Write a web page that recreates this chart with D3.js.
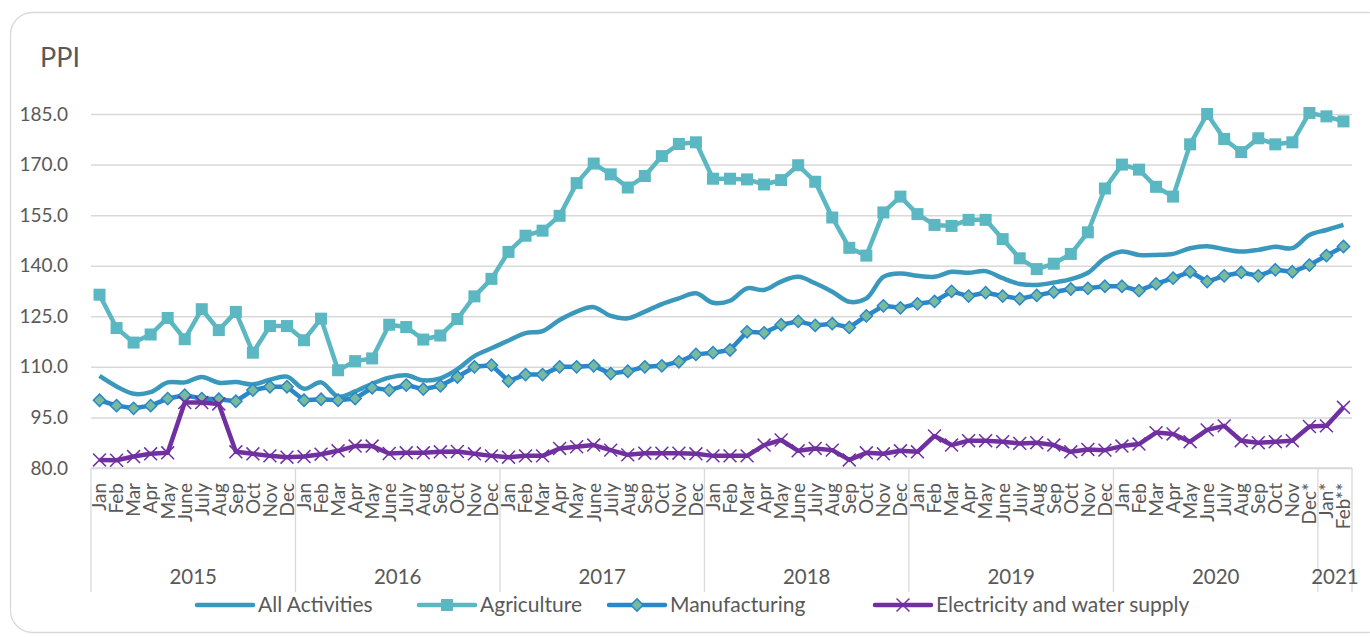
<!DOCTYPE html>
<html>
<head>
<meta charset="utf-8">
<script src="https://cdn.jsdelivr.net/npm/d3@7"></script>
<style>
  html, body { margin: 0; padding: 0; background: #ffffff; }
  svg { display: block; }
  text { font-family: Lato, "Open Sans", sans-serif; fill: #595959; }
</style>
</head>
<body>
<svg id="chart" width="1370" height="637"></svg>
<script>
// ---------------- data ----------------
const years = ["2015", "2016", "2017", "2018", "2019", "2020", "2021"];
const monthNames = ["Jan","Feb","Mar","Apr","May","June","July","Aug","Sep","Oct","Nov","Dec"];
const lastMonths2020 = ["Jan","Feb","Mar","Apr","May","June","July","Aug","Sep","Oct","Nov","Dec*"];
const months2021 = ["Jan*", "Feb**"];
const yTicks = [80, 95, 110, 125, 140, 155, 170, 185];
const seriesNames = ["All Activities", "Agriculture", "Manufacturing", "Electricity and water supply"];

const allActivities = [
  107.3, 104.2, 102.0, 102.5, 105.4, 105.4, 107.0, 105.3, 105.5, 104.8, 106.2, 107.1,
  103.5, 105.4, 101.2, 102.7, 105.0, 106.8, 107.5, 106.0, 106.6, 109.3, 113.2, 115.5,
  117.8, 120.0, 120.6, 123.9, 126.4, 127.7, 125.1, 124.4, 126.4, 128.6, 130.3, 131.8,
  129.0, 129.6, 133.3, 132.8, 135.3, 136.7, 134.8, 132.3, 129.3, 130.3, 136.7, 137.7,
  137.0, 136.7, 138.2, 137.9, 138.4, 136.3, 134.6, 134.3, 135.0, 136.0, 137.9, 142.2,
  144.2, 143.2, 143.2, 143.5, 145.2, 145.8, 144.9, 144.2, 144.7, 145.6, 145.2, 149.1,
  150.6, 152.1
];
const agriculture = [
  131.4, 121.5, 117.2, 119.6, 124.5, 118.2, 127.1, 120.9, 126.3, 114.2, 122.1, 122.1,
  117.9, 124.3, 109.0, 111.7, 112.5, 122.5, 121.8, 118.1, 119.3, 124.2, 130.9, 136.1,
  144.1, 148.9, 150.4, 154.8, 164.5, 170.3, 167.1, 163.2, 166.6, 172.5, 176.1, 176.6,
  165.8, 165.8, 165.6, 164.1, 165.4, 169.8, 164.9, 154.3, 145.3, 143.0, 155.8, 160.5,
  155.3, 152.1, 151.8, 153.6, 153.6, 147.9, 142.2, 139.0, 140.6, 143.5, 149.9, 162.9,
  170.0, 168.5, 163.4, 160.5, 176.0, 185.0, 177.6, 173.7, 177.8, 176.0, 176.6, 185.3,
  184.3, 182.8
];
const manufacturing = [
  100.1, 98.5, 97.7, 98.5, 100.6, 101.6, 100.6, 100.4, 99.8, 103.1, 104.1, 104.1,
  100.1, 100.4, 100.1, 100.6, 103.8, 103.1, 104.6, 103.4, 104.4, 107.0, 110.0, 110.5,
  105.8, 107.7, 107.7, 110.0, 110.0, 110.3, 108.0, 108.7, 110.0, 110.3, 111.5, 113.7,
  114.2, 115.0, 120.4, 120.1, 122.5, 123.5, 122.3, 122.8, 121.7, 125.1, 128.1, 127.5,
  128.7, 129.4, 132.4, 131.0, 132.0, 131.0, 130.2, 131.2, 132.2, 133.1, 133.3, 133.9,
  133.9, 132.6, 134.6, 136.3, 138.2, 135.3, 137.0, 138.0, 137.0, 138.8, 138.2, 140.2,
  143.0, 145.7
];
const electricity = [
  82.4, 82.3, 83.4, 84.2, 84.5, 99.4, 99.4, 99.0, 84.8, 84.2, 83.6, 83.2,
  83.4, 84.1, 85.1, 86.5, 86.5, 84.3, 84.5, 84.5, 84.8, 84.9, 84.2, 83.6,
  83.2, 83.6, 83.6, 85.8, 86.3, 86.8, 85.3, 83.9, 84.4, 84.4, 84.4, 84.2,
  83.6, 83.6, 83.6, 86.8, 88.3, 85.1, 85.8, 85.3, 82.4, 84.5, 84.2, 85.1,
  84.8, 89.5, 86.8, 88.1, 88.1, 87.8, 87.3, 87.5, 86.8, 84.8, 85.5, 85.3,
  86.5, 87.1, 90.5, 90.1, 87.8, 91.3, 92.5, 88.1, 87.5, 87.8, 88.1, 92.3,
  92.5, 98.0
];

// ---------------- build categories ----------------
const categories = [];
years.forEach(yr => {
  const ms = yr === "2021" ? months2021 : (yr === "2020" ? lastMonths2020 : monthNames);
  ms.forEach(m => categories.push({ year: yr, month: m, key: yr + "-" + m }));
});

// ---------------- layout ----------------
const svg = d3.select("#chart");
const plot = { left: 91, right: 1352, top: 114, bottom: 468 };

// outer rounded frame
svg.append("rect")
  .attr("x", 10.5).attr("y", 12.5)
  .attr("width", 1380).attr("height", 620)
  .attr("rx", 22).attr("ry", 22)
  .attr("fill", "#ffffff")
  .attr("stroke", "#d9d9d9").attr("stroke-width", 1.3);

const x = d3.scaleBand()
  .domain(categories.map(d => d.key))
  .range([plot.left, plot.right]);
const cx = i => x(categories[i].key) + x.bandwidth() / 2;

const y = d3.scaleLinear().domain([80, 185]).range([plot.bottom, plot.top]);

// title
svg.append("text")
  .attr("x", 40).attr("y", 67)
  .attr("font-size", 27)
  .text("PPI");

// gridlines + y labels via axis
const yAxis = d3.axisLeft(y).tickValues(yTicks).tickFormat(d3.format(".1f"))
  .tickSize(-(plot.right - plot.left)).tickPadding(23);
const gy = svg.append("g").attr("transform", `translate(${plot.left},0)`).call(yAxis);
gy.select(".domain").remove();
gy.selectAll(".tick line").attr("stroke", "#d9d9d9").attr("stroke-width", 1.5);
gy.selectAll(".tick text")
  .attr("font-size", 19)
  .attr("fill", "#595959")
  .style("font-family", "Lato, 'Open Sans', sans-serif");

// x axis: month labels (rotated)
const xAxis = d3.axisBottom(x).tickSize(0).tickFormat(k => categories.find(c => c.key === k).month);
const gx = svg.append("g").attr("transform", `translate(0,${plot.bottom})`).call(xAxis);
gx.select(".domain").remove();
gx.selectAll(".tick text")
  .attr("font-size", 19)
  .attr("fill", "#595959")
  .style("font-family", "Lato, 'Open Sans', sans-serif")
  .attr("text-anchor", "end")
  .attr("transform", "rotate(-90)")
  .attr("x", -15)
  .attr("y", 0)
  .attr("dy", "0.36em");

// year group separators and labels
const yearGroups = years.map(yr => {
  const idx = categories.map((c, i) => c.year === yr ? i : -1).filter(i => i >= 0);
  return { year: yr, x0: x(categories[idx[0]].key), x1: x(categories[idx[idx.length - 1]].key) + x.bandwidth() };
});
const sepX = yearGroups.map(g => g.x0).concat([plot.right]);
svg.append("g").selectAll("line").data(sepX).join("line")
  .attr("x1", d => d).attr("x2", d => d)
  .attr("y1", plot.bottom).attr("y2", 592)
  .attr("stroke", "#d9d9d9").attr("stroke-width", 1.3);
svg.append("line")
  .attr("x1", plot.left).attr("x2", plot.right)
  .attr("y1", plot.bottom).attr("y2", plot.bottom)
  .attr("stroke", "#d9d9d9").attr("stroke-width", 1.5);
svg.append("g").selectAll("text").data(yearGroups).join("text")
  .attr("x", d => (d.x0 + d.x1) / 2)
  .attr("y", 584)
  .attr("text-anchor", "middle")
  .attr("font-size", 20.5)
  .text(d => d.year);

// ---------------- series ----------------
const colors = {
  all: "#3A98BC",
  agri: "#5BB7C1",
  manu: "#2A87CA",
  manuFill: "#77BA9E",
  elec: "#7030A0"
};

const lineStraight = d3.line().x((d, i) => cx(i)).y(d => y(d));
const lineSmooth = d3.line().x((d, i) => cx(i)).y(d => y(d)).curve(d3.curveCatmullRom.alpha(0.5));

const gS = svg.append("g");

// All Activities (smoothed, no markers)
gS.append("path").datum(allActivities)
  .attr("d", lineSmooth).attr("fill", "none")
  .attr("stroke", colors.all).attr("stroke-width", 4.5).attr("stroke-linejoin", "round");

// Agriculture
gS.append("path").datum(agriculture)
  .attr("d", lineStraight).attr("fill", "none")
  .attr("stroke", colors.agri).attr("stroke-width", 4.5).attr("stroke-linejoin", "round");
gS.append("g").selectAll("rect").data(agriculture).join("rect")
  .attr("x", (d, i) => cx(i) - 6).attr("y", d => y(d) - 6)
  .attr("width", 12).attr("height", 12)
  .attr("fill", colors.agri);

// Manufacturing
gS.append("path").datum(manufacturing)
  .attr("d", lineStraight).attr("fill", "none")
  .attr("stroke", colors.manu).attr("stroke-width", 4.5).attr("stroke-linejoin", "round");
const diamond = d3.symbol().type(d3.symbolDiamond2).size(95);
gS.append("g").selectAll("path").data(manufacturing).join("path")
  .attr("transform", (d, i) => `translate(${cx(i)},${y(d)})`)
  .attr("d", diamond)
  .attr("fill", colors.manuFill)
  .attr("stroke", colors.manu).attr("stroke-width", 1.5);

// Electricity
gS.append("path").datum(electricity)
  .attr("d", lineStraight).attr("fill", "none")
  .attr("stroke", colors.elec).attr("stroke-width", 4.5).attr("stroke-linejoin", "round");
const cross = d3.symbol().type(d3.symbolX).size(110);
gS.append("g").selectAll("path").data(electricity).join("path")
  .attr("transform", (d, i) => `translate(${cx(i)},${y(d)})`)
  .attr("d", cross)
  .attr("fill", "none")
  .attr("stroke", colors.elec).attr("stroke-width", 1.5);

// ---------------- legend ----------------
const legendY = 605;
const legendItems = [
  { name: seriesNames[0], color: colors.all, marker: null, sx: 197 },
  { name: seriesNames[1], color: colors.agri, marker: "square", sx: 419 },
  { name: seriesNames[2], color: colors.manu, marker: "diamond", sx: 609 },
  { name: seriesNames[3], color: colors.elec, marker: "x", sx: 875 }
];
const gL = svg.append("g");
legendItems.forEach(it => {
  const lx = it.sx;
  const g = gL.append("g");
  g.append("line").attr("x1", lx).attr("x2", lx + 56)
    .attr("y1", legendY).attr("y2", legendY)
    .attr("stroke", it.color).attr("stroke-width", 4.5).attr("stroke-linecap", "round");
  const mx = lx + 28;
  if (it.marker === "square") {
    g.append("rect").attr("x", mx - 6).attr("y", legendY - 6).attr("width", 12).attr("height", 12).attr("fill", it.color);
  } else if (it.marker === "diamond") {
    g.append("path").attr("transform", `translate(${mx},${legendY})`).attr("d", diamond)
      .attr("fill", colors.manuFill).attr("stroke", colors.manu).attr("stroke-width", 1.5);
  } else if (it.marker === "x") {
    g.append("path").attr("transform", `translate(${mx},${legendY})`).attr("d", cross)
      .attr("fill", "none").attr("stroke", it.color).attr("stroke-width", 1.5);
  }
  g.append("text").attr("x", lx + 61).attr("y", legendY).attr("dy", "0.35em")
    .attr("font-size", 21).text(it.name);
});
</script>
</body>
</html>
